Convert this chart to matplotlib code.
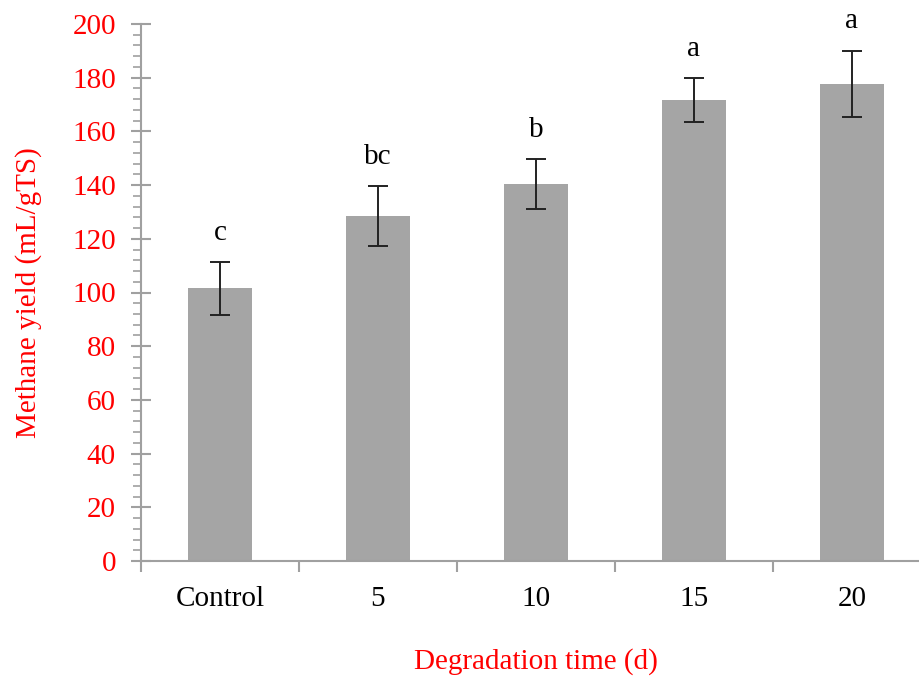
import numpy as np
import matplotlib.pyplot as plt
from matplotlib.ticker import MultipleLocator

groups = ["Control", "5", "10", "15", "20"]
yields = [101.5, 128.5, 140.5, 171.8, 177.8]
errors = [10.0, 11.0, 9.3, 8.2, 12.3]
letters = ["c", "bc", "b", "a", "a"]

plt.rcParams['font.family'] = ['Liberation Serif', 'DejaVu Serif']

fig = plt.figure(figsize=(9.2, 6.77), dpi=100)
ax = fig.add_axes([141/920, 116/677, 790/920, 537/677])

x = np.arange(len(groups))
ax.bar(x, yields, width=0.4, color="#a5a5a5", zorder=2)
ax.errorbar(x, yields, yerr=errors, fmt="none", ecolor="#222222",
            elinewidth=1.4, capsize=7, capthick=1.4, zorder=3)
for xi, v, e, t in zip(x, yields, errors, letters):
    ax.text(xi, v + e + 6, t, ha="center", va="bottom", fontsize=21, color="black")

ax.set_xlim(-0.5, len(groups) - 0.5)
ax.set_ylim(0, 200)
ax.yaxis.set_major_locator(MultipleLocator(20))
ax.yaxis.set_minor_locator(MultipleLocator(4))
ax.set_xticks(x)
ax.set_xticklabels(groups)
ax.set_xticks(np.arange(-0.5, len(groups), 1), minor=True)

for s in ["top", "right"]:
    ax.spines[s].set_visible(False)
for s in ["left", "bottom"]:
    ax.spines[s].set_color("#a0a0a0")
    ax.spines[s].set_linewidth(1.5)

ax.tick_params(axis="y", which="major", direction="inout", length=14, width=1.5,
               color="#a0a0a0", labelcolor="red", labelsize=21, pad=11)
ax.tick_params(axis="y", which="minor", direction="out", length=6, width=1.2,
               color="#a0a0a0")
ax.tick_params(axis="x", which="major", length=0, labelsize=21, pad=18)
ax.tick_params(axis="x", which="minor", direction="out", length=8, width=1.5,
               color="#a0a0a0")

ax.set_ylabel("Methane yield (mL/gTS)", color="red", fontsize=21, labelpad=22)
ax.set_xlabel("Degradation time (d)", color="red", fontsize=21, labelpad=26)

fig.savefig("out.png", dpi=100)
